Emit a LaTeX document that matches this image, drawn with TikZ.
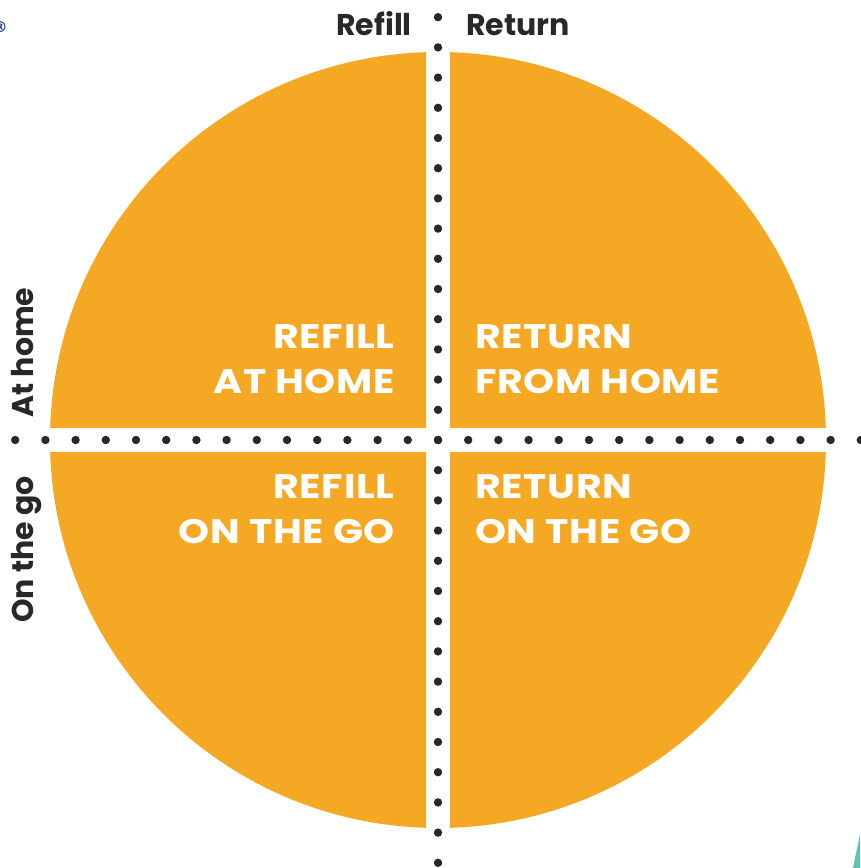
\documentclass[tikz,border=0pt]{standalone}
\usepackage{fontspec}
\setmainfont{Poppins}
\newfontfamily\quadfont{Poppins}[FakeStretch=1.16,LetterSpace=2]
\newfontfamily\markfont{DejaVu Sans}
\definecolor{amber}{RGB}{245,168,36}
\definecolor{ink}{RGB}{40,40,40}
\definecolor{mark}{RGB}{30,60,130}
\definecolor{mint}{RGB}{94,196,176}
\usetikzlibrary{positioning}
\tikzset{
  quadtext/.style={text=white, inner sep=0pt, font=\quadfont\bfseries\fontsize{34}{40}\selectfont},
  axistext/.style={text=ink, inner sep=0pt, font=\bfseries\fontsize{30}{36}\selectfont},
  dot/.style={fill=ink},
  gap/.style={fill=white},
}
\begin{document}
\begin{tikzpicture}[x=1pt,y=-1pt]
  \useasboundingbox (0,0) rectangle (860,868);
  % disc and the white cross that splits it
  \fill[amber] (438,440) circle (388);
  \fill[gap] (426,0) rectangle (450,868);
  \fill[gap] (0,427.5) rectangle (860,452);
  % dotted axes
  \foreach \k in {-14,...,14} {
    \fill[dot] (438,440+30.2*\k) circle (4.2);
    \fill[dot] (438+30.2*\k,440) circle (4.2);
  }
  % quadrant labels
  \node[quadtext,anchor=base east] (rfh1) at (395,348) {REFILL};
  \node[quadtext,anchor=base east] (rfh2) at (395,393) {AT HOME};
  \node[quadtext,anchor=base west] (rth1) at (475,348) {RETURN};
  \node[quadtext,anchor=base west] (rth2) at (475,393) {FROM HOME};
  \node[quadtext,anchor=base east] (rfg1) at (395,498) {REFILL};
  \node[quadtext,anchor=base east] (rfg2) at (395,543) {ON THE GO};
  \node[quadtext,anchor=base west] (rtg1) at (475,498) {RETURN};
  \node[quadtext,anchor=base west] (rtg2) at (475,543) {ON THE GO};
  % axis labels
  \node[axistext,anchor=base east] (refill) at (412,35) {Refill};
  \node[axistext,anchor=base west] (return) at (466,35) {Return};
  \node[axistext,anchor=base west,rotate=90] (home) at (33,418) {At home};
  \node[axistext,anchor=base west,rotate=90] (go) at (33,623) {On the go};
  % stray marks at the edges
  \node[text=mark,inner sep=0pt,font=\markfont\bfseries\fontsize{15}{15}\selectfont] (reg) at (0,27) {®};
  \fill[mint] (860,834) -- (853,868) -- (860,868) -- cycle;
\end{tikzpicture}
\end{document}
